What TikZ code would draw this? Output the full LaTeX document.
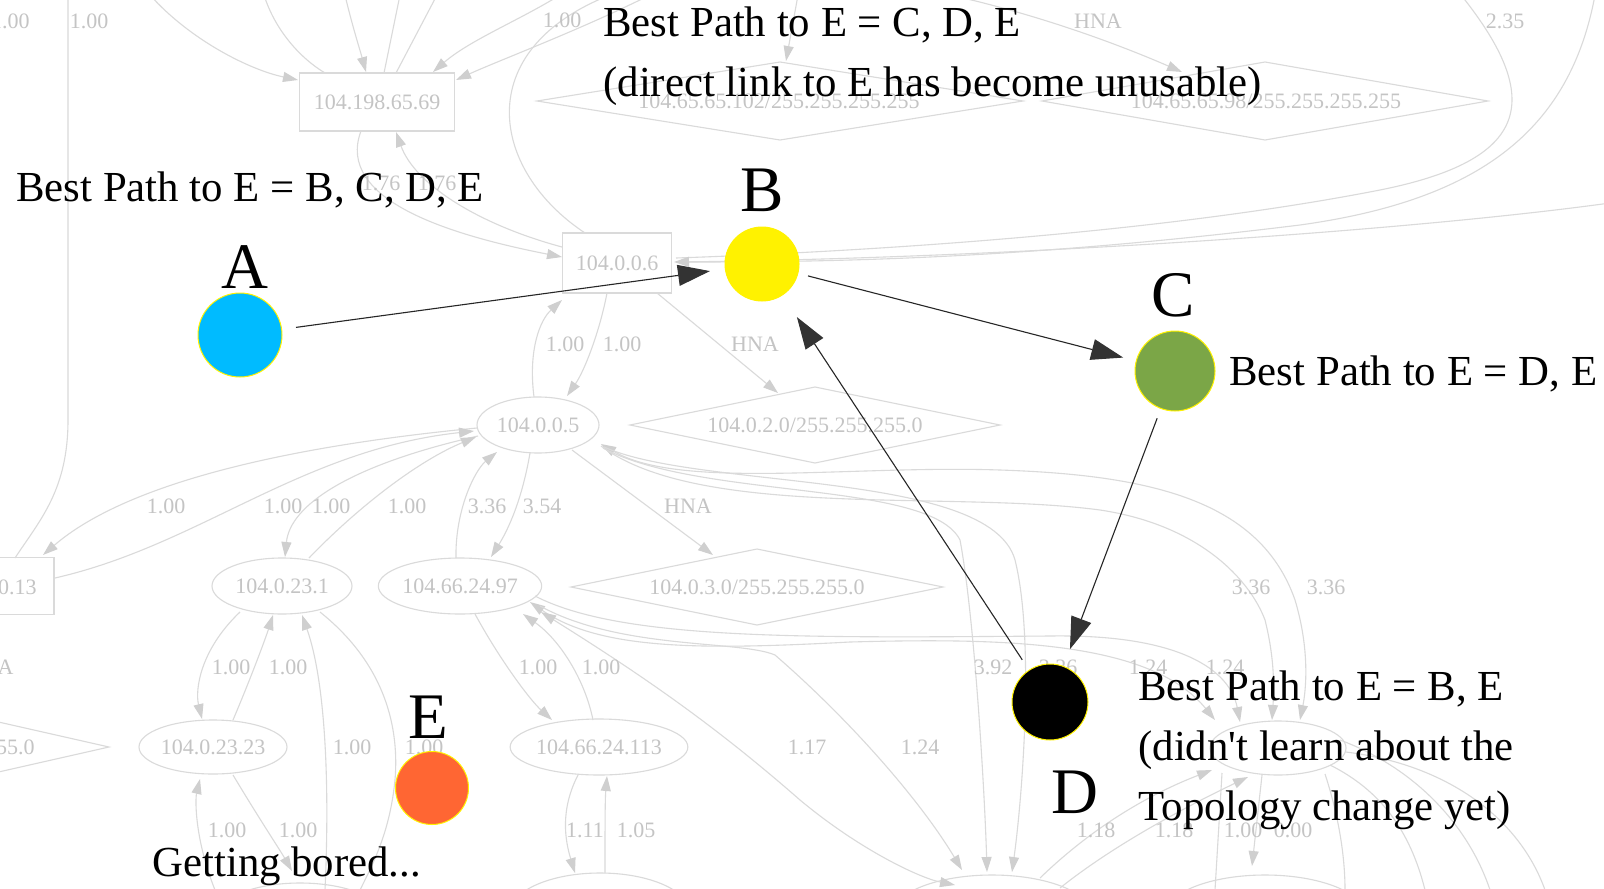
\documentclass[tikz,border=0pt]{standalone}
\usepackage{fontspec}
\setmainfont{Liberation Serif}
\usetikzlibrary{arrows.meta,shapes.geometric}

\definecolor{bgline}{HTML}{DADADA}
\definecolor{bgtext}{HTML}{C4C4C4}
\definecolor{bghead}{HTML}{CFCFCF}
\definecolor{nodeA}{HTML}{00BBFF}
\definecolor{nodeC}{HTML}{7BA647}
\definecolor{nodeE}{HTML}{FF6633}
\definecolor{headgray}{HTML}{333333}

\tikzset{
  bgtip/.tip={Triangle[length=7.5pt,width=5pt,color=bghead,fill=bghead]},
  bgedge/.style={draw=bgline, line width=0.55pt},
  bga/.style={bgedge, -bgtip},
  bgaa/.style={bgedge, bgtip-bgtip},
  bgshape/.style={draw=bgline, line width=0.55pt},
  bgbox/.style={bgshape, rectangle, inner sep=0pt, text=bgtext, font=\fontsize{11}{13}\selectfont},
  bgell/.style={bgshape, ellipse, inner sep=0pt, text=bgtext, font=\fontsize{11}{13}\selectfont},
  bglab/.style={text=bgtext, inner sep=0pt, font=\fontsize{11}{13}\selectfont},
  router/.style={circle, draw=yellow, line width=0.5pt, inner sep=0pt},
  hop/.style={draw=black!85, line width=0.55pt, -{Triangle[length=16pt,width=10.5pt,color=headgray,fill=headgray]}},
  caption/.style={font=\fontsize{21.4}{26}\selectfont, inner sep=0pt, anchor=base west},
  letter/.style={font=\fontsize{32.5}{36}\selectfont, inner sep=0pt, anchor=base},
}

\begin{document}
\begin{tikzpicture}[x=0.5pt,y=-0.5pt]
\useasboundingbox (0,0) rectangle (1604,888);
\fill[white] (0,0) rectangle (1604,888);
\clip (0,0) rectangle (1604,888);

% ---------- faded routing graph in the background ----------
% nodes
\node[bgbox, minimum width=77.5pt, minimum height=29pt] (n1) at (377,102) {104.198.65.69};
\node[bgbox, minimum width=54.5pt, minimum height=30pt] (n2) at (617,263) {104.0.0.6};
\node[bgbox, minimum width=64pt, minimum height=28.5pt] (n9) at (-10,586) {};
\node[bglab, anchor=east] (n9t) at (37,587) {0.13};
\node[bgell, minimum width=61pt, minimum height=28pt] (n5) at (538,425) {104.0.0.5};
\node[bgell, minimum width=80pt, minimum height=28pt] (n7) at (460,586) {104.66.24.97};
\node[bgell, minimum width=70pt, minimum height=28pt] (n8) at (282,586) {104.0.23.1};
\node[bgell, minimum width=74pt, minimum height=27pt] (n10) at (213,747) {104.0.23.23};
\node[bgell, minimum width=85pt, minimum height=28pt] (n11) at (599,747) {104.66.24.113};
\node[bgell, minimum width=100pt, minimum height=40pt] (n12) at (992,915) {};
\node[bgell, minimum width=68pt, minimum height=27pt] (n13) at (1278,748) {};
\node[bgell, minimum width=100pt, minimum height=40pt] (n14) at (1265,915) {};
\node[bgell, minimum width=90pt, minimum height=40pt] (n15) at (600,913) {};
\node[bgell, minimum width=85pt, minimum height=35pt] (n16) at (300,918) {};

% network diamonds
\draw[bgshape] (537,101) -- (780,62) -- (1023,101) -- (780,140) -- cycle;
\node[bglab] (d1) at (779,101) {104.65.65.102/255.255.255.255};
\draw[bgshape] (1042,101) -- (1265,62) -- (1488,101) -- (1265,140) -- cycle;
\node[bglab] (d2) at (1266,101) {104.65.65.98/255.255.255.255};
\draw[bgshape] (630,425) -- (815,387) -- (1000,425) -- (815,463) -- cycle;
\node[bglab] (d3) at (815,425) {104.0.2.0/255.255.255.0};
\draw[bgshape] (571,587) -- (757,549) -- (943,587) -- (757,625) -- cycle;
\node[bglab] (d4) at (757,587) {104.0.3.0/255.255.255.0};
\draw[bgshape] (-271,747) -- (-81,704) -- (109,747) -- (-81,790) -- cycle;
\node[bglab, anchor=east] (d5) at (35,747) {55.0};

% edges, upper part
\draw[bga] (150,-5) .. controls (190,40) and (250,70) .. (298,80);
\draw[bgedge] (264,-5) .. controls (275,30) and (300,58) .. (325,73);
\draw[bga] (345,-5) .. controls (352,25) and (360,50) .. (366,72);
\draw[bgedge] (400,-5) -- (384,73);
\draw[bgedge] (437,-5) -- (396,73);
\draw[bga] (560,-5) .. controls (520,20) and (470,40) .. (433,72);
\draw[bga] (650,-5) .. controls (580,30) and (500,60) .. (456,80);
\draw[bga] (361,131) .. controls (335,200) and (450,235) .. (562,257);
\draw[bga] (562,247) .. controls (480,225) and (415,185) .. (396,132);
\draw[bgedge] (610,-5) .. controls (470,50) and (490,170) .. (585,233);
\draw[bga] (798,-5) -- (786,61);
\draw[bga] (950,-5) .. controls (1040,15) and (1120,45) .. (1182,72);
\draw[bgedge] (68,-5) -- (68,420) .. controls (68,490) and (40,520) .. (15,558);
\draw[bgedge] (1595,-5) .. controls (1570,130) and (1480,200) .. (1300,225) .. controls (1000,262) and (800,262) .. (676,262);
\draw[bgedge] (1461,-5) .. controls (1545,100) and (1530,160) .. (1380,190) .. controls (1150,235) and (850,252) .. (676,258);
\draw[bga] (1610,203) .. controls (1400,232) and (1000,258) .. (674,262);

% edges, middle part
\draw[bga] (534,397) .. controls (528,350) and (540,320) .. (562,300);
\draw[bga] (607,293) .. controls (600,330) and (585,370) .. (567,396);
\draw[bga] (657,293) -- (778,393);
\draw[bga] (477,428) .. controls (300,445) and (130,480) .. (43,555);
\draw[bga] (55,578) .. controls (200,545) and (300,450) .. (474,431);
\draw[bga] (478,436) .. controls (350,465) and (290,505) .. (285,557);
\draw[bga] (309,558) .. controls (360,505) and (420,460) .. (476,437);
\draw[bga] (456,558) .. controls (455,510) and (475,470) .. (497,452);
\draw[bga] (530,453) .. controls (522,500) and (508,530) .. (491,557);
\draw[bga] (572,450) -- (713,555);
\draw[bgaa] (601,444) .. controls (680,490) and (850,465) .. (1000,470) .. controls (1150,475) and (1260,500) .. (1295,600) .. controls (1310,650) and (1306,690) .. (1300,720);
\draw[bga] (601,446) .. controls (700,520) and (950,490) .. (1100,510) .. controls (1200,525) and (1250,580) .. (1265,620) .. controls (1275,660) and (1274,690) .. (1272,720);
\draw[bga] (603,448) .. controls (700,500) and (930,480) .. (960,540) .. controls (975,620) and (985,800) .. (987,872);
\draw[bga] (604,447) .. controls (700,490) and (990,470) .. (1015,560) .. controls (1035,640) and (1022,800) .. (1012,872);
\draw[bgaa] (530,602) .. controls (600,650) and (700,650) .. (850,642) .. controls (1000,638) and (1150,640) .. (1215,720);
\draw[bga] (535,596) .. controls (620,640) and (800,638) .. (1050,636) .. controls (1180,634) and (1230,670) .. (1240,722);
\draw[bgaa] (541,612) .. controls (650,680) and (720,730) .. (800,800) .. controls (860,850) and (920,878) .. (955,885);
\draw[bga] (540,606) .. controls (620,650) and (740,640) .. (775,655) .. controls (850,720) and (920,800) .. (962,870);

% edges, lower part
\draw[bga] (240,612) .. controls (200,650) and (195,690) .. (202,719);
\draw[bga] (233,720) .. controls (250,680) and (265,640) .. (273,615);
\draw[bga] (325,890) .. controls (330,780) and (325,680) .. (302,615);
\draw[bgedge] (320,612) .. controls (380,660) and (400,720) .. (395,780) .. controls (390,830) and (375,860) .. (360,890);
\draw[bga] (215,890) .. controls (195,840) and (195,800) .. (200,779);
\draw[bga] (233,775) .. controls (260,820) and (280,850) .. (292,871);
\draw[bga] (475,614) .. controls (500,660) and (530,700) .. (552,720);
\draw[bga] (593,720) .. controls (585,680) and (560,640) .. (523,614);
\draw[bga] (578,775) .. controls (560,810) and (565,840) .. (575,873);
\draw[bga] (605,873) .. controls (605,830) and (605,800) .. (607,776);
\draw[bga] (1262,775) -- (1252,866);
\draw[bgedge] (1222,773) -- (1215,890);
\draw[bgedge] (1330,765) .. controls (1380,790) and (1410,830) .. (1425,890);
\draw[bgedge] (1340,740) .. controls (1420,770) and (1470,830) .. (1490,890);
\draw[bgedge] (1346,752) .. controls (1450,765) and (1520,820) .. (1545,890);
\draw[bga] (1040,878) .. controls (1100,820) and (1160,790) .. (1212,770);
\draw[bga] (1060,888) .. controls (1120,840) and (1200,800) .. (1248,777);
\draw[bgedge] (1325,774) .. controls (1340,820) and (1345,860) .. (1345,890);

% edge labels
\node[bglab, anchor=east] at (30,21) {1.00};
\node[bglab] at (89,21) {1.00};
\node[bglab] at (562,20) {1.00};
\node[bglab] at (1098,21) {HNA};
\node[bglab] at (1505,21) {2.35};
\node[bglab] at (381,183) {1.76};
\node[bglab] at (437,183) {1.76};
\node[bglab] at (565,344) {1.00};
\node[bglab] at (622,344) {1.00};
\node[bglab] at (755,344) {HNA};
\node[bglab] at (166,506) {1.00};
\node[bglab] at (283,506) {1.00};
\node[bglab] at (331,506) {1.00};
\node[bglab] at (407,506) {1.00};
\node[bglab] at (487,506) {3.36};
\node[bglab] at (542,506) {3.54};
\node[bglab] at (688,506) {HNA};
\node[bglab] at (1251,587) {3.36};
\node[bglab] at (1326,587) {3.36};
\node[bglab, anchor=east] at (14,667) {HNA};
\node[bglab] at (231,667) {1.00};
\node[bglab] at (288,667) {1.00};
\node[bglab] at (538,667) {1.00};
\node[bglab] at (601,667) {1.00};
\node[bglab] at (993,667) {3.92};
\node[bglab] at (1058,667) {3.26};
\node[bglab] at (1148,667) {1.24};
\node[bglab] at (1225,667) {1.24};
\node[bglab] at (352,747) {1.00};
\node[bglab] at (424,747) {1.00};
\node[bglab] at (807,747) {1.17};
\node[bglab] at (920,747) {1.24};
\node[bglab] at (227,830) {1.00};
\node[bglab] at (298,830) {1.00};
\node[bglab] at (585,830) {1.11};
\node[bglab] at (636,830) {1.05};
\node[bglab] at (1096,830) {1.18};
\node[bglab] at (1174,830) {1.18};
\node[bglab] at (1243,830) {1.00};
\node[bglab] at (1293,830) {0.00};

% ---------- routers and the path each one currently uses ----------
\node[router, fill=nodeA, minimum size=42pt] (A) at (240,335) {};
\node[router, fill=yellow, minimum size=37pt] (B) at (762,264) {};
\node[router, fill=nodeC, minimum size=40pt] (C) at (1175,371) {};
\node[router, fill=black, minimum size=38pt] (D) at (1050,702) {};
\node[router, fill=nodeE, minimum size=36.5pt] (E) at (432,788) {};

\node[letter] (la) at (245,288) {A};
\node[letter] (lb) at (762,211) {B};
\node[letter] (lc) at (1173,316) {C};
\node[letter] (ld) at (1075,813) {D};
\node[letter] (le) at (428,738) {E};

\draw[hop, shorten <=7pt, shorten >=7.5pt] (A) -- (B);
\draw[hop, shorten <=5pt, shorten >=6.5pt] (B) -- (C);
\draw[hop, shorten <=5pt, shorten >=9pt] (C) -- (D);
\draw[hop, shorten <=6pt, shorten >=13pt] (D) -- (B);

\node[caption] (pa) at (16,201) {Best Path to E = B, C, D, E};
\node[caption] (pb1) at (603,37) {Best Path to E = C, D, E};
\node[caption] (pb2) at (603,97) {(direct link to E has become unusable)};
\node[caption] (pc) at (1229,385) {Best Path to E = D, E};
\node[caption] (pd1) at (1138,700) {Best Path to E = B, E};
\node[caption] (pd2) at (1138,760) {(didn\textquotesingle t learn about the};
\node[caption] (pd3) at (1138,820) {Topology change yet)};
\node[caption] (pe) at (152,876) {Getting bored...};
\end{tikzpicture}
\end{document}
